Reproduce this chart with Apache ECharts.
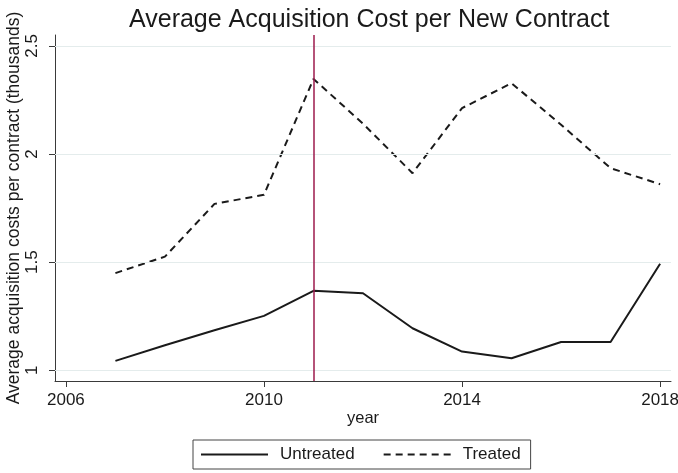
<!DOCTYPE html>
<html>
<head>
<meta charset="utf-8">
<style>
  html, body { margin: 0; padding: 0; background: #ffffff; }
  #chart { width: 678px; height: 473px; }
</style>
<script src="https://cdn.jsdelivr.net/npm/echarts@6/dist/echarts.min.js"></script>
</head>
<body>
<div id="chart"></div>
<script>
// Average acquisition cost per new contract, in thousands, by year
const years = [2007, 2008, 2009, 2010, 2011, 2012, 2013, 2014, 2015, 2016, 2017, 2018];
const untreated = [1.043, 1.115, 1.185, 1.251, 1.367, 1.356, 1.194, 1.086, 1.055, 1.13, 1.13, 1.492];
const treated = [1.449, 1.525, 1.769, 1.811, 2.347, 2.14, 1.911, 2.212, 2.327, 2.135, 1.934, 1.86];

// Axis ticks and the treatment year marker
const xTicks = [2006, 2010, 2014, 2018];
const yTicks = [1, 1.5, 2, 2.5];
const treatmentYear = 2011;

const FONT = '"Liberation Sans", Arial, Helvetica, sans-serif';
const INK = '#1a1a1a';
const AXIS = '#3a3a3a';

const pairs = (vals) => years.map((y, i) => [y, vals[i]]);

const chart = echarts.init(document.getElementById('chart'), null, { renderer: 'canvas' });

chart.setOption({
  backgroundColor: '#ffffff',
  animation: false,
  textStyle: { fontFamily: FONT },
  title: {
    text: 'Average Acquisition Cost per New Contract',
    left: 124,
    top: 3,
    textStyle: { fontFamily: FONT, fontSize: 25, fontWeight: 'normal', color: INK }
  },
  grid: { left: 55, right: 7, top: 35, bottom: 92, containLabel: false, outerBoundsMode: 'none' },
  xAxis: {
    type: 'value',
    min: 2005.78,
    max: 2018.22,
    name: 'year',
    nameLocation: 'middle',
    nameGap: 29,
    nameMoveOverlap: false,
    nameTextStyle: { fontFamily: FONT, fontSize: 16.5, color: INK },
    axisLine: { show: true, onZero: false, lineStyle: { color: AXIS, width: 1 } },
    axisTick: { show: true, length: 6, customValues: xTicks, lineStyle: { color: AXIS } },
    axisLabel: {
      customValues: xTicks,
      margin: 11,
      fontFamily: FONT, fontSize: 17, color: INK,
      formatter: (v) => String(Math.round(v))
    },
    splitLine: { show: false }
  },
  yAxis: {
    type: 'value',
    min: 0.95,
    max: 2.55,
    name: 'Average acquisition costs per contract (thousands)',
    nameLocation: 'middle',
    nameRotate: 90,
    nameGap: 32,
    nameMoveOverlap: false,
    nameTextStyle: { fontFamily: FONT, fontSize: 17.5, color: INK },
    axisLine: { show: true, onZero: false, lineStyle: { color: AXIS, width: 1 } },
    axisTick: { show: true, length: 6, customValues: yTicks, lineStyle: { color: AXIS } },
    axisLabel: {
      customValues: yTicks,
      rotate: 90,
      margin: 14,
      fontFamily: FONT, fontSize: 17, color: INK,
      formatter: (v) => String(v)
    },
    splitLine: { show: false }
  },
  legend: {
    left: 193,
    top: 440,
    orient: 'horizontal',
    padding: [6, 10, 6, 7],
    itemGap: 28,
    itemWidth: 67,
    itemHeight: 14,
    borderColor: '#444444',
    borderWidth: 1,
    backgroundColor: '#ffffff',
    itemStyle: { opacity: 0 },
    textStyle: { fontFamily: FONT, fontSize: 17, color: INK, padding: [0, 0, 0, 7] },
    data: ['Untreated', 'Treated']
  },
  series: [
    {
      // horizontal grid lines at each y tick
      name: 'grid',
      type: 'line',
      data: [],
      silent: true,
      markLine: {
        silent: true,
        symbol: 'none',
        label: { show: false },
        lineStyle: { color: '#e4ecec', width: 1, type: 'solid' },
        data: yTicks.map((v) => ({ yAxis: v }))
      }
    },
    {
      name: 'Untreated',
      type: 'line',
      data: pairs(untreated),
      symbol: 'none',
      showSymbol: false,
      z: 3,
      lineStyle: { color: INK, width: 2, type: 'solid' },
      itemStyle: { color: INK }
    },
    {
      name: 'Treated',
      type: 'line',
      data: pairs(treated),
      symbol: 'none',
      showSymbol: false,
      z: 3,
      lineStyle: { color: INK, width: 2, type: [7, 5] },
      itemStyle: { color: INK }
    },
    {
      // vertical marker at the treatment year
      name: 'marker',
      type: 'line',
      data: [],
      silent: true,
      z: 4,
      markLine: {
        silent: true,
        symbol: 'none',
        label: { show: false },
        lineStyle: { color: '#9c1a4c', width: 1.5, type: 'solid' },
        data: [{ xAxis: treatmentYear }]
      }
    }
  ]
});
</script>
</body>
</html>
